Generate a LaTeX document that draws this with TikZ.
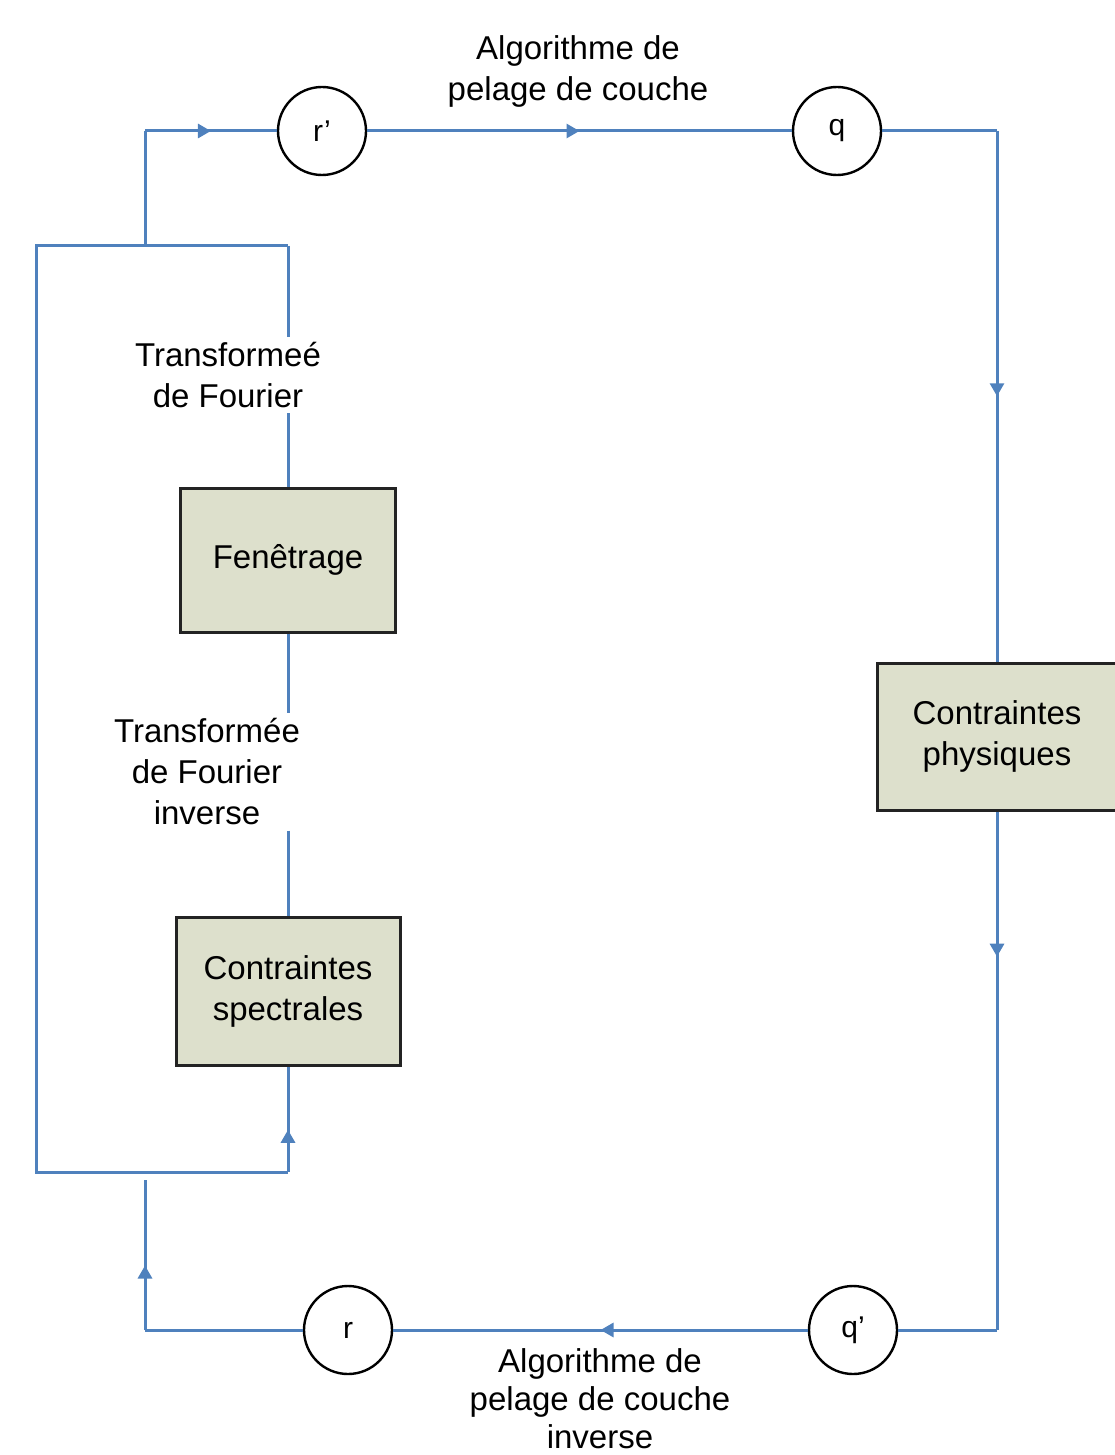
\documentclass[tikz,border=0pt]{standalone}
\usepackage{fontspec}
\setmainfont{Liberation Sans}
\usetikzlibrary{arrows.meta,decorations.markings}
\definecolor{flowblue}{RGB}{79,129,189}
\definecolor{boxfill}{RGB}{221,224,204}
\definecolor{boxline}{RGB}{35,35,35}
\begin{document}
\begin{tikzpicture}[x=1pt,y=-1pt,
  line/.style={draw=flowblue,line width=3pt},
  midarrow/.style={postaction={decorate},decoration={markings,mark=at position #1 with {\arrow[flowblue]{Triangle[length=13pt,width=14pt]}}}},
  midarrow/.default=0.5,
  circ/.style={circle,draw=black,line width=2.4pt,minimum size=88pt,inner sep=0pt,font=\fontsize{30}{36}\selectfont},
  procbox/.style={rectangle,draw=boxline,fill=boxfill,line width=3pt,align=center,font=\fontsize{33}{41}\selectfont},
  lab/.style={align=center,font=\fontsize{33}{41}\selectfont,inner sep=5pt}]
\useasboundingbox (0,0) rectangle (1114,1455);
\node[circ] (rp) at (322,131) {r'};
\node[circ] (q) at (837,131) {q};
\node[circ] (r) at (348,1330) {r};
\node[circ] (qp) at (853,1330) {q'};
\node[procbox,minimum width=215pt,minimum height=144pt] (fen) at (288,560) {Fenêtrage};
\node[procbox,minimum width=224pt,minimum height=148pt] (spec) at (288,991) {Contraintes\\spectrales};
\node[procbox,minimum width=240pt,minimum height=147pt] (phys) at (997,736.5) {Contraintes\\physiques};
\node[lab] (top) at (578,71) {Algorithme de\\pelage de couche};
\node[lab,font=\fontsize{33}{38}\selectfont] (bot) at (600,1399) {Algorithme de\\pelage de couche\\inverse};
\node[lab] (tf) at (228,375) {Transformeé\\de Fourier};
\node[lab] (tfi) at (207,772) {Transformée\\de Fourier\\inverse};
\coordinate (tl) at (36,246);
\coordinate (tr) at (288,246);
\coordinate (bl) at (36,1172);
\coordinate (br) at (288,1172);
\coordinate (up) at (145,246);
\coordinate (upt) at (145,131);
\coordinate (qc) at (997,131);
\coordinate (qpc) at (997,1330);
\coordinate (rc) at (145,1330);
\coordinate (rtop) at (145,1180);
\draw[line] (up) -- (upt);
\draw[line,midarrow] (upt) -- (rp);
\draw[line,midarrow] (rp) -- (q);
\draw[line] (q) -- (qc);
\draw[line,midarrow] (qc) -- (phys);
\draw[line,midarrow=0.28] (phys) -- (qpc);
\draw[line] (qpc) -- (qp);
\draw[line,midarrow] (qp) -- (r);
\draw[line] (r) -- (rc);
\draw[line,midarrow=0.43] (rc) -- (rtop);
\draw[line] (tr) -- (tl) -- (bl) -- (br);
\draw[line,midarrow=0.4] (br) -- (spec);
\draw[line] (tr) -- (tr |- tf.north);
\draw[line] (tf.south -| fen.north) -- (fen);
\draw[line] (fen) -- (fen.south |- tfi.north);
\draw[line] (tfi.south -| spec.north) -- (spec);
\end{tikzpicture}
\end{document}
